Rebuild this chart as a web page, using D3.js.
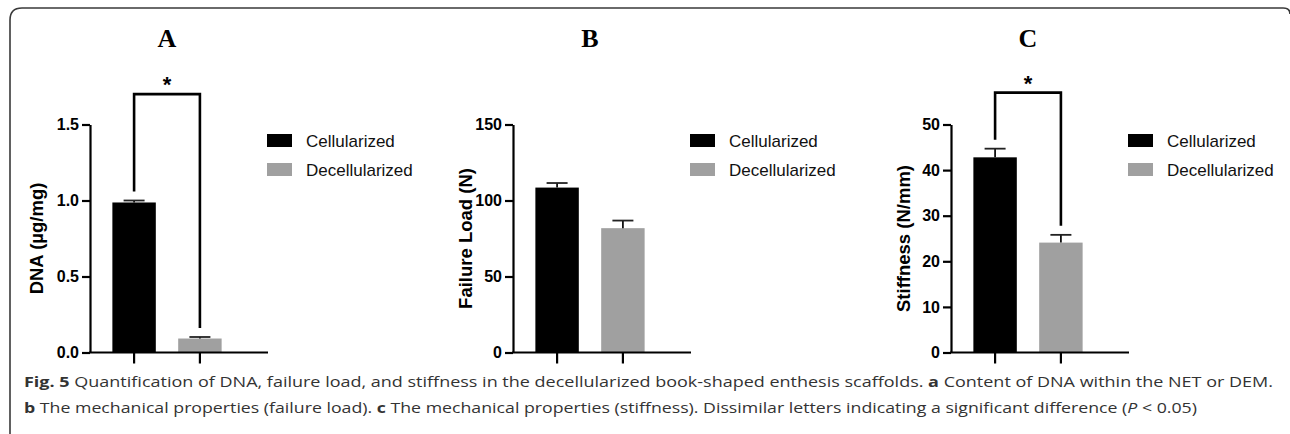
<!DOCTYPE html>
<html>
<head>
<meta charset="utf-8">
<script src="https://cdn.jsdelivr.net/npm/d3@7"></script>
<style>
body { margin: 0; background: #fff; }
svg { display: block; }
.tick text { font-family: Arial, "Liberation Sans", sans-serif; font-weight: bold; font-size: 16px; fill: #000; }
</style>
</head>
<body>
<script>
var w = 1290;
var h = 434;

// data
var groups = ["Cellularized", "Decellularized"];
var colors = ["#000000", "#a0a0a0"];
var panelTitles = ["A", "B", "C"];
var yLabels = ["DNA (µg/mg)", "Failure Load (N)", "Stiffness (N/mm)"];
var dnaMean = [0.987, 0.092];
var dnaErr = [0.013, 0.010];
var loadMean = [108.5, 81.8];
var loadErr = [3.0, 5.0];
var stiffMean = [42.8, 24.1];
var stiffErr = [1.9, 1.7];
var dnaTicks = [0, 0.5, 1.0, 1.5];
var loadTicks = [0, 50, 100, 150];
var stiffTicks = [0, 10, 20, 30, 40, 50];
var sigTop = [1.7, null, 57];   // bracket height in data units, null = no bracket

var panels = [
    { title: panelTitles[0], label: yLabels[0], mean: dnaMean, err: dnaErr, ticks: dnaTicks, fmt: d3.format(".1f"), sig: sigTop[0], x0: 90, lab: 47 },
    { title: panelTitles[1], label: yLabels[1], mean: loadMean, err: loadErr, ticks: loadTicks, fmt: d3.format("d"), sig: sigTop[1], x0: 513, lab: 41 },
    { title: panelTitles[2], label: yLabels[2], mean: stiffMean, err: stiffErr, ticks: stiffTicks, fmt: d3.format("d"), sig: sigTop[2], x0: 951, lab: 41 }
];

var svg = d3.select("body")
            .append("svg")
            .attr("width", w)
            .attr("height", h);

// frame
svg.append("path")
    .attr("d", "M10,434 L10,20 Q10,8 22,8 L1283,8 Q1290,8 1290,14")
    .attr("fill", "none")
    .attr("stroke", "#3a3a3a")
    .attr("stroke-width", 1.6);

var plotTop = 124.5, plotBottom = 352.5, plotW = 154;

panels.forEach(function(p) {
    var g = svg.append("g");

    var xScale = d3.scaleBand()
                   .domain(groups)
                   .range([p.x0, p.x0 + plotW])
                   .padding(0.34);
    var yScale = d3.scaleLinear()
                   .domain([0, d3.max(p.ticks)])
                   .range([plotBottom, plotTop]);

    //bars
    g.selectAll("rect.bar")
        .data(groups)
        .enter()
        .append("rect")
        .attr("class", "bar")
        .attr("x", function(d) { return xScale(d); })
        .attr("width", xScale.bandwidth())
        .attr("y", function(d, i) { return yScale(p.mean[i]); })
        .attr("height", function(d, i) { return plotBottom - yScale(p.mean[i]); })
        .attr("fill", function(d, i) { return colors[i]; });

    //error bars (upper only)
    groups.forEach(function(d, i) {
        var cx = xScale(d) + xScale.bandwidth() / 2;
        var top = yScale(p.mean[i] + p.err[i]);
        g.append("line")
            .attr("x1", cx).attr("x2", cx)
            .attr("y1", yScale(p.mean[i])).attr("y2", top)
            .attr("stroke", "#111")
            .attr("stroke-width", 1.8);
        g.append("line")
            .attr("x1", cx - 10.5).attr("x2", cx + 10.5)
            .attr("y1", top).attr("y2", top)
            .attr("stroke", "#222")
            .attr("stroke-width", 1.8);
    });

    //axes
    var yAxis = d3.axisLeft(yScale)
                  .tickValues(p.ticks)
                  .tickFormat(p.fmt)
                  .tickSize(8)
                  .tickSizeOuter(0)
                  .tickPadding(3);
    var ya = g.append("g")
        .attr("transform", "translate(" + p.x0 + ",0)")
        .call(yAxis);
    ya.selectAll("line, path").attr("stroke", "#000").attr("stroke-width", 2.2);

    var xAxis = d3.axisBottom(xScale)
                  .tickSize(11)
                  .tickSizeOuter(0)
                  .tickFormat("");
    var xa = g.append("g")
        .attr("transform", "translate(0," + plotBottom + ")")
        .call(xAxis);
    xa.select(".domain").attr("d", "M" + (p.x0 - 1) + ",0H" + (p.x0 + plotW + 24));
    xa.selectAll("line, path").attr("stroke", "#000").attr("stroke-width", 2.2);

    //y label
    g.append("text")
        .attr("transform", "translate(" + (p.x0 - p.lab) + "," + ((plotTop + plotBottom) / 2) + ") rotate(-90)")
        .attr("text-anchor", "middle")
        .style("font-family", "Arial, 'Liberation Sans', sans-serif")
        .style("font-weight", "bold")
        .style("font-size", "18.5px")
        .text(p.label);

    //panel title
    g.append("text")
        .attr("x", p.x0 + 77)
        .attr("y", 47)
        .attr("text-anchor", "middle")
        .style("font-family", "'Liberation Serif', 'Times New Roman', serif")
        .style("font-weight", "bold")
        .style("font-size", "26px")
        .text(p.title);

    //significance bracket
    if (p.sig !== null) {
        var xl = xScale(groups[0]) + xScale.bandwidth() / 2;
        var xr = xScale(groups[1]) + xScale.bandwidth() / 2;
        var yt = yScale(p.sig);
        var yl = yScale(p.mean[0] + p.err[0]) - 9;
        var yr = yScale(p.mean[1] + p.err[1]) - 9;
        g.append("path")
            .attr("d", "M" + xl + "," + yl + "V" + yt + "H" + xr + "V" + yr)
            .attr("fill", "none")
            .attr("stroke", "#000")
            .attr("stroke-width", 2.6);
        g.append("text")
            .attr("x", (xl + xr) / 2)
            .attr("y", yt - 2)
            .attr("text-anchor", "middle")
            .style("font-family", "Arial, 'Liberation Sans', sans-serif")
            .style("font-weight", "bold")
            .style("font-size", "22px")
            .text("*");
    }

    //legend
    var lg = g.append("g").attr("transform", "translate(" + (p.x0 + 177) + ",134)");
    groups.forEach(function(d, i) {
        lg.append("rect")
            .attr("x", 0).attr("y", i * 29)
            .attr("width", 25).attr("height", 13)
            .attr("fill", colors[i]);
        lg.append("text")
            .attr("x", 39).attr("y", i * 29 + 13)
            .style("font-family", "Arial, 'Liberation Sans', sans-serif")
            .style("font-size", "17px")
            .style("fill", "#111")
            .text(d);
    });
});

//caption
var cap = svg.append("g")
    .style("font-family", "'Open Sans', 'Noto Sans', sans-serif")
    .style("font-size", "15px")
    .style("fill", "#333");

var l1 = cap.append("text").attr("x", 24).attr("y", 387)
    .attr("textLength", 1249).attr("lengthAdjust", "spacingAndGlyphs");
l1.append("tspan").style("font-weight", "bold").text("Fig. 5");
l1.append("tspan").text(" Quantification of DNA, failure load, and stiffness in the decellularized book-shaped enthesis scaffolds. ");
l1.append("tspan").style("font-weight", "bold").text("a");
l1.append("tspan").text(" Content of DNA within the NET or DEM.");

var l2 = cap.append("text").attr("x", 24).attr("y", 413)
    .attr("textLength", 1173).attr("lengthAdjust", "spacingAndGlyphs");
l2.append("tspan").style("font-weight", "bold").text("b");
l2.append("tspan").text(" The mechanical properties (failure load). ");
l2.append("tspan").style("font-weight", "bold").text("c");
l2.append("tspan").text(" The mechanical properties (stiffness). Dissimilar letters indicating a significant difference (");
l2.append("tspan").style("font-style", "italic").text("P");
l2.append("tspan").text(" < 0.05)");
</script>
</body>
</html>
